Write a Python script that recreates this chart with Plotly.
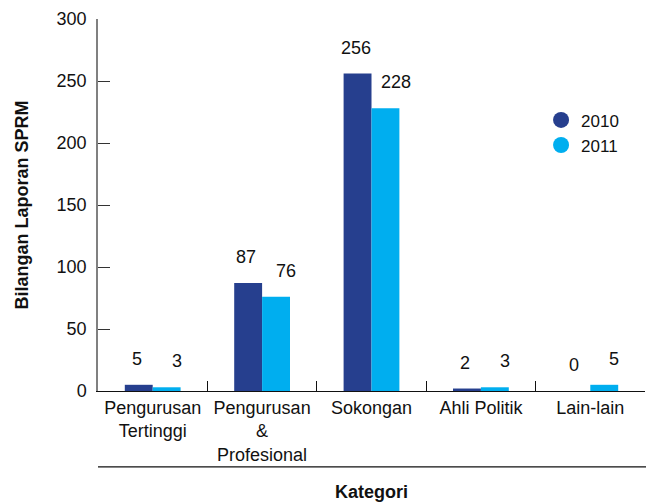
import plotly.graph_objects as go

categories = ["Pengurusan<br>Tertinggi", "Pengurusan<br>&<br>Profesional", "Sokongan", "Ahli Politik", "Lain-lain"]
series_names = ["2010", "2011"]
values_2010 = [5, 87, 256, 2, 0]
values_2011 = [3, 76, 228, 3, 5]
y_ticks = [0, 50, 100, 150, 200, 250, 300]

colors = ["#263F8E", "#00AEEF"]
FONT = "Liberation Sans, Arial, sans-serif"

fig = go.Figure()
for name, vals, col in zip(series_names, [values_2010, values_2011], colors):
    fig.add_trace(go.Bar(x=categories, y=vals, name=name, marker_color=col,
                         marker_line_width=0, showlegend=False))
# legend entries as circles
for name, col in zip(series_names, colors):
    fig.add_trace(go.Scatter(x=[None], y=[None], mode="markers", name=name,
                             marker=dict(color=col, size=16, symbol="circle")))

# value labels
for vals, shift in [(values_2010, -16), (values_2011, 24)]:
    for c, v in zip(categories, vals):
        fig.add_annotation(x=c, y=v, text=str(v), showarrow=False, xshift=shift,
                           yshift=26, yanchor="middle",
                           font=dict(size=18, color="#111111", family=FONT))

fig.add_shape(type="line", xref="paper", yref="paper", x0=0, x1=1.003, y0=-0.204, y1=-0.204,
              line=dict(color="#111111", width=1.2))
fig.add_annotation(xref="paper", yref="paper", x=0.5, y=-0.272, text="<b>Kategori</b>",
                   showarrow=False, yanchor="middle",
                   font=dict(size=18, color="#111111", family=FONT))

fig.update_layout(
    width=646, height=503,
    margin=dict(l=98, r=1, t=19, b=112),
    plot_bgcolor="white", paper_bgcolor="white",
    barmode="group", bargap=0.49, bargroupgap=0,
    font=dict(family=FONT, size=18, color="#111111"),
    legend=dict(x=0.81, y=0.776, xanchor="left", yanchor="top",
                font=dict(size=17), itemwidth=30, tracegroupgap=0,
                bgcolor="rgba(0,0,0,0)"),
    xaxis=dict(showline=True, linecolor="#111111", linewidth=1.2,
               ticks="inside", tickson="boundaries", ticklen=10, tickcolor="#111111",
               tickfont=dict(size=18), showgrid=False),
    yaxis=dict(range=[0, 300], tickvals=y_ticks, showline=True, linecolor="#808080",
               linewidth=1.5, ticks="inside", ticklen=12, tickcolor="#333333",
               tickfont=dict(size=18), showgrid=False, zeroline=False,
               ticklabelstandoff=6,
               title=dict(text="<b>Bilangan Laporan SPRM</b>", font=dict(size=18), standoff=23)),
)

fig.write_html("out.html", config={"displayModeBar": False},
               post_script="document.body.style.margin='0';")
